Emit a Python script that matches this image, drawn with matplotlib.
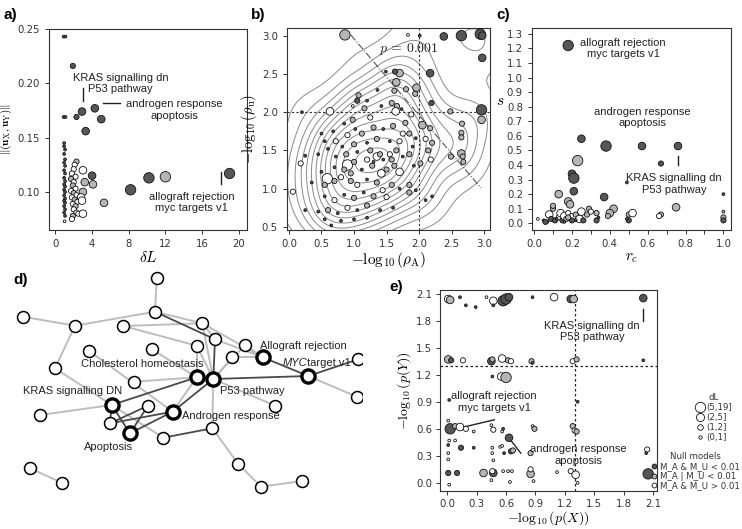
import numpy as np
import matplotlib
matplotlib.use('Agg')
import matplotlib.pyplot as plt
from matplotlib.lines import Line2D

plt.rcParams['mathtext.fontset'] = 'cm'
plt.rcParams['font.size'] = 8

# ---- data -------------------------------------------------------------
# (x, y, dL size class 0..3, null model class 0 dark / 1 grey / 2 white)
a_points = [
    (0.9, 0.243, 0, 0), (1.1, 0.243, 0, 0), (0.9, 0.169, 0, 0), (1.1, 0.169, 0, 0),
    (0.95, 0.145, 0, 0), (0.95, 0.142, 0, 0), (1.05, 0.139, 0, 0), (0.95, 0.135, 0, 0),
    (1.05, 0.130, 0, 0), (0.95, 0.127, 0, 0), (1.05, 0.124, 0, 0), (0.95, 0.120, 0, 0),
    (1.05, 0.117, 0, 0), (0.95, 0.113, 0, 0), (1.05, 0.110, 0, 0), (0.95, 0.107, 0, 0),
    (1.05, 0.105, 0, 0), (0.95, 0.102, 0, 0), (1.05, 0.100, 0, 0), (0.95, 0.097, 0, 0),
    (1.05, 0.094, 0, 0), (0.95, 0.092, 0, 0), (1.05, 0.090, 0, 0), (0.95, 0.087, 0, 0),
    (1.05, 0.084, 0, 0), (0.95, 0.081, 0, 0), (1.05, 0.078, 0, 0), (1.0, 0.073, 0, 2),
    (1.9, 0.216, 1, 0), (2.3, 0.169, 1, 0), (2.3, 0.128, 1, 1), (2.1, 0.125, 1, 2),
    (2.0, 0.121, 1, 2), (1.8, 0.117, 1, 2), (2.2, 0.114, 1, 2), (1.7, 0.112, 1, 1),
    (2.0, 0.109, 1, 2), (1.9, 0.106, 1, 1), (2.2, 0.103, 1, 2), (1.7, 0.101, 1, 2),
    (2.0, 0.099, 1, 1), (2.3, 0.097, 1, 2), (1.8, 0.095, 1, 2), (2.1, 0.093, 1, 1),
    (2.4, 0.091, 1, 2), (1.9, 0.089, 1, 2), (2.2, 0.087, 1, 1), (2.0, 0.084, 1, 2),
    (2.3, 0.081, 1, 2), (1.9, 0.078, 1, 1), (1.8, 0.075, 1, 2), (2.5, 0.080, 1, 2),
    (2.9, 0.174, 2, 0), (4.3, 0.177, 2, 0), (5.0, 0.167, 2, 0), (3.3, 0.156, 2, 0),
    (4.0, 0.115, 2, 0), (4.1, 0.107, 2, 1), (3.2, 0.109, 2, 1), (3.0, 0.120, 2, 2),
    (3.0, 0.100, 2, 1), (2.8, 0.095, 2, 2), (2.9, 0.092, 2, 2), (3.0, 0.080, 2, 2),
    (5.3, 0.090, 2, 1),
    (8.2, 0.102, 3, 0), (10.2, 0.113, 3, 0), (12.0, 0.114, 3, 1), (19.0, 0.117, 3, 0),
]

b_points = [
    (0.86, 3.01, 3, 1), (1.83, 3.01, 0, 2), (2.01, 3.0, 0, 0), (2.38, 2.99, 2, 0),
    (2.65, 3.0, 3, 0), (2.94, 3.02, 3, 0), (2.97, 3.0, 2, 0), (2.97, 2.71, 2, 0),
    (2.17, 2.51, 2, 0), (1.70, 2.51, 2, 1), (1.63, 2.53, 1, 0), (1.49, 2.53, 0, 0),
    (1.65, 2.39, 2, 1), (1.96, 2.32, 2, 1), (1.80, 2.30, 1, 1), (1.62, 2.28, 1, 1),
    (1.94, 2.24, 1, 1), (2.19, 2.12, 1, 0), (1.36, 2.29, 0, 0), (1.07, 2.22, 1, 1),
    (1.20, 2.15, 0, 0), (1.05, 2.15, 1, 0), (0.98, 2.08, 0, 2), (1.16, 2.05, 1, 1),
    (1.58, 2.12, 1, 1), (1.66, 2.08, 1, 1), (1.42, 2.08, 0, 0), (1.73, 2.04, 0, 0),
    (2.48, 2.01, 1, 1), (2.96, 2.03, 3, 0), (2.96, 1.90, 2, 1), (0.63, 2.01, 2, 2),
    (1.64, 2.01, 2, 2), (0.20, 2.00, 0, 0), (1.88, 1.97, 1, 2), (0.98, 1.90, 1, 1),
    (2.05, 1.83, 2, 1), (2.17, 1.79, 1, 1), (2.66, 1.85, 1, 1), (2.65, 1.73, 1, 1),
    (2.65, 1.67, 1, 1), (1.75, 1.72, 1, 2), (1.79, 1.86, 1, 1), (1.25, 1.93, 1, 2),
    (0.85, 1.85, 0, 0), (0.68, 1.75, 0, 0), (0.50, 1.72, 0, 0), (0.55, 1.62, 0, 0),
    (0.72, 1.62, 1, 2), (0.90, 1.70, 1, 2), (1.02, 1.78, 0, 0), (1.12, 1.72, 1, 1),
    (1.30, 1.80, 1, 1), (1.45, 1.78, 0, 0), (1.60, 1.82, 1, 1), (1.85, 1.72, 1, 1),
    (1.95, 1.66, 0, 0), (2.10, 1.65, 1, 2), (1.70, 1.62, 1, 2), (1.55, 1.62, 0, 0),
    (1.35, 1.65, 1, 1), (1.20, 1.60, 0, 0), (1.00, 1.58, 1, 1), (0.82, 1.55, 0, 0),
    (0.60, 1.52, 0, 0), (2.20, 1.60, 1, 1), (1.90, 1.55, 0, 0),
    (0.25, 1.43, 0, 0), (0.18, 1.33, 1, 2), (0.45, 1.45, 0, 0), (0.72, 1.42, 0, 0),
    (0.88, 1.45, 1, 1), (1.05, 1.48, 0, 0), (1.25, 1.50, 1, 1), (1.35, 1.42, 2, 2),
    (1.40, 1.45, 1, 1), (1.45, 1.38, 0, 0), (1.55, 1.45, 1, 2), (1.65, 1.50, 1, 1),
    (1.75, 1.42, 0, 0), (1.85, 1.45, 1, 1), (2.14, 1.50, 1, 1), (2.49, 1.42, 1, 1),
    (2.65, 1.46, 2, 1), (2.67, 1.42, 1, 1), (2.68, 1.35, 1, 1), (2.02, 1.33, 1, 1),
    (2.18, 1.38, 1, 2), (1.92, 1.30, 0, 0), (1.62, 1.30, 1, 1), (1.50, 1.25, 1, 1),
    (1.42, 1.20, 2, 2), (1.28, 1.30, 1, 1), (1.12, 1.25, 0, 0), (0.90, 1.31, 3, 2),
    (0.85, 1.25, 1, 1), (0.95, 1.20, 1, 1), (0.70, 1.28, 0, 0), (0.50, 1.22, 0, 0),
    (1.30, 1.35, 0, 0), (1.20, 1.38, 1, 2), (1.00, 1.35, 1, 1), (1.58, 1.38, 1, 1),
    (1.70, 1.22, 2, 2),
    (0.59, 1.13, 3, 2), (0.06, 0.96, 1, 2), (0.35, 1.08, 0, 0), (0.55, 1.05, 1, 1),
    (0.70, 1.10, 1, 1), (0.80, 1.15, 1, 2), (0.95, 1.10, 1, 1), (1.05, 1.05, 1, 2),
    (1.20, 1.12, 0, 0), (1.35, 1.08, 1, 1), (1.44, 0.98, 1, 2), (1.50, 0.89, 1, 2),
    (1.58, 1.05, 1, 1), (1.70, 1.00, 0, 0), (1.85, 1.05, 1, 1), (1.95, 0.98, 0, 0),
    (2.10, 0.85, 0, 0), (2.20, 0.90, 0, 0), (0.55, 0.90, 0, 0), (0.70, 0.85, 1, 2),
    (0.85, 0.92, 0, 0), (1.00, 0.88, 1, 1), (1.15, 0.95, 0, 0), (1.30, 0.90, 1, 1),
    (0.25, 0.72, 0, 0), (0.45, 0.70, 0, 0), (0.60, 0.72, 1, 1), (0.75, 0.68, 0, 0),
    (0.90, 0.75, 1, 2), (1.05, 0.72, 0, 0), (1.20, 0.78, 1, 1), (1.40, 0.72, 0, 0),
    (1.60, 0.75, 0, 0), (0.80, 0.58, 0, 0), (1.00, 0.60, 0, 0), (1.20, 0.62, 0, 0),
    (0.55, 0.60, 0, 0), (0.65, 0.52, 0, 0), (1.85, 0.95, 1, 1),
]

c_points = [
    (0.18, 1.22, 3, 0), (0.25, 0.58, 2, 0), (0.38, 0.53, 3, 0), (0.57, 0.53, 2, 0),
    (0.76, 0.53, 2, 0), (0.67, 0.41, 1, 0), (0.23, 0.43, 3, 1), (0.20, 0.34, 2, 0),
    (0.21, 0.31, 3, 0), (0.21, 0.22, 2, 0), (0.49, 0.28, 0, 0), (0.37, 0.18, 2, 0),
    (0.13, 0.20, 2, 1), (0.18, 0.15, 2, 1), (0.19, 0.13, 2, 1), (0.75, 0.11, 2, 1),
    (0.42, 0.10, 2, 1), (1.00, 0.20, 0, 0),
    (0.02, 0.03, 0, 2), (0.05, 0.02, 0, 0), (0.07, 0.01, 0, 0), (0.08, 0.06, 2, 2),
    (0.10, 0.10, 1, 1), (0.10, 0.12, 1, 1), (0.09, 0.03, 1, 0), (0.11, 0.02, 1, 0),
    (0.13, 0.04, 1, 2), (0.14, 0.07, 2, 2), (0.15, 0.02, 1, 0), (0.16, 0.05, 2, 2),
    (0.17, 0.03, 1, 1), (0.18, 0.07, 1, 2), (0.20, 0.04, 2, 2), (0.20, 0.02, 1, 0),
    (0.22, 0.06, 1, 1), (0.24, 0.03, 2, 2), (0.25, 0.08, 2, 2), (0.26, 0.02, 1, 0),
    (0.28, 0.06, 1, 1), (0.29, 0.10, 1, 1), (0.30, 0.08, 1, 2), (0.33, 0.07, 1, 1),
    (0.33, 0.02, 1, 0), (0.34, 0.04, 0, 0), (0.40, 0.07, 2, 1), (0.39, 0.05, 1, 1),
    (0.50, 0.06, 1, 1), (0.50, 0.02, 1, 0), (0.52, 0.07, 2, 2), (0.49, 0.03, 0, 0),
    (0.67, 0.06, 1, 1), (0.66, 0.05, 1, 2), (1.00, 0.08, 0, 1), (1.00, 0.04, 1, 1),
    (1.00, 0.02, 1, 0), (0.12, 0.03, 0, 0), (0.16, 0.01, 0, 0), (0.06, 0.01, 1, 0),
    (0.22, 0.02, 0, 0), (0.18, 0.04, 1, 1),
]

e_points = [
    (0.01, 2.04, 2, 2), (0.03, 2.03, 2, 1), (0.13, 2.06, 0, 0), (0.19, 1.97, 0, 0),
    (0.29, 1.95, 0, 0), (0.40, 2.06, 0, 2), (0.47, 2.02, 2, 2), (0.47, 1.97, 0, 0),
    (0.57, 2.02, 3, 0), (0.60, 2.04, 3, 0), (0.63, 2.06, 2, 0), (0.87, 2.06, 0, 0),
    (1.09, 2.06, 2, 2), (1.26, 2.04, 2, 0), (1.29, 2.04, 2, 1), (2.00, 2.05, 2, 0),
    (0.01, 1.37, 2, 1), (0.04, 1.36, 1, 0), (0.16, 1.36, 1, 2), (0.45, 1.35, 2, 0),
    (0.46, 1.37, 1, 1), (0.56, 1.38, 2, 2), (0.62, 1.36, 1, 1), (0.65, 1.35, 1, 2),
    (0.86, 1.35, 1, 1), (0.87, 1.33, 0, 0), (1.28, 1.35, 1, 2), (1.32, 1.37, 1, 1),
    (2.00, 1.36, 0, 0),
    (0.46, 1.18, 0, 0), (0.55, 1.18, 2, 2), (0.60, 1.17, 3, 1),
    (0.02, 0.92, 0, 0), (1.33, 0.90, 0, 0),
    (0.01, 0.69, 0, 2), (0.03, 0.60, 3, 0), (0.08, 0.63, 1, 1), (0.13, 0.62, 2, 2),
    (0.19, 0.60, 1, 2), (0.27, 0.57, 0, 2), (0.45, 0.64, 0, 2), (0.47, 0.59, 1, 2),
    (0.57, 0.60, 0, 0), (0.56, 0.57, 0, 2), (0.63, 0.50, 2, 0), (0.87, 0.63, 0, 2),
    (0.89, 0.60, 1, 1), (1.28, 0.63, 1, 1), (1.30, 0.58, 1, 2), (1.32, 0.57, 1, 1),
    (0.02, 0.47, 0, 2), (0.08, 0.47, 0, 2), (0.01, 0.42, 0, 0), (0.14, 0.39, 1, 0),
    (0.27, 0.39, 0, 0), (0.46, 0.39, 0, 2), (0.54, 0.40, 0, 2), (0.56, 0.41, 0, 2),
    (0.65, 0.35, 1, 0), (0.67, 0.36, 1, 1), (0.58, 0.33, 0, 0), (0.46, 0.33, 0, 2),
    (2.04, 0.37, 1, 2), (2.03, 0.33, 0, 0),
    (0.01, 0.33, 0, 2), (0.01, 0.26, 0, 2), (0.47, 0.25, 0, 2), (0.85, 0.33, 1, 1),
    (0.01, 0.11, 1, 0), (0.10, 0.11, 1, 0), (0.37, 0.11, 2, 1), (0.47, 0.11, 2, 0),
    (0.46, 0.13, 1, 2), (0.57, 0.13, 0, 2), (0.62, 0.13, 0, 2), (0.66, 0.13, 0, 2),
    (0.85, 0.10, 2, 1), (0.85, 0.15, 1, 2), (1.12, 0.12, 0, 2), (1.26, 0.13, 1, 2),
    (1.31, 0.09, 2, 2), (1.33, 0.00, 0, 2), (0.45, 0.03, 0, 2), (0.64, 0.01, 0, 2),
    (0.02, -0.02, 0, 2), (0.88, 0.02, 0, 2), (2.05, 0.10, 3, 0),
]

# network (panel d): node layout in picture pixels, bold = highlighted gene sets
node_xy = [
    (156.7, 278.3), (155.0, 311.7), (22.7, 316.7), (75.0, 325.7), (123.3, 326.0),
    (202.3, 323.3), (215.0, 339.3), (196.7, 345.7), (245.0, 345.0), (89.3, 351.0),
    (152.0, 349.3), (232.3, 357.3), (262.7, 357.3), (358.3, 359.3), (55.0, 368.3),
    (196.7, 377.3), (213.3, 379.0), (308.3, 376.0), (134.0, 381.7), (356.7, 396.7),
    (111.7, 405.0), (148.0, 405.7), (275.0, 405.7), (40.0, 415.0), (172.7, 411.7),
    (110.0, 423.3), (212.3, 428.3), (130.0, 433.3), (163.3, 437.7), (30.0, 468.3),
    (238.3, 464.0), (61.7, 482.7), (261.0, 486.7), (302.3, 481.0),
]
bold_nodes = [12, 15, 16, 17, 20, 24, 27]
light_edges = [(0, 1), (1, 3), (2, 3), (3, 14), (4, 5), (4, 7), (5, 6), (5, 12),
               (6, 12), (7, 16), (7, 15), (8, 12), (11, 16), (17, 19), (14, 20),
               (9, 24), (10, 15), (18, 15), (23, 20), (20, 28), (24, 15), (26, 16),
               (26, 30), (30, 32), (32, 33), (29, 31), (22, 16), (5, 16), (8, 16),
               (1, 5), (11, 12)]
dark_edges = [(1, 6), (6, 16), (12, 17), (16, 17), (17, 13), (20, 15), (20, 25),
              (20, 27), (21, 25), (21, 27), (25, 24), (27, 24), (24, 16), (28, 26)]

dl_labels = ['(5,19]', '(2,5]', '(1,2]', '(0,1]']
null_labels = ['M_A & M_U < 0.01', 'M_A | M_U < 0.01', 'M_A & M_U > 0.01']

# ---- style ------------------------------------------------------------
null_colors = ['#565656', '#b5b5b5', 'white']
size_area = [4, 14, 30, 56]
ann_font = dict(family='Liberation Sans', size=8, color='#222222')
label_font = dict(family='Liberation Sans', size=11, weight='bold')

W, H = 742, 529
fig = plt.figure(figsize=(W / 100, H / 100), dpi=100)


def px_axes(x0, y0, x1, y1):
    return fig.add_axes([x0 / W, 1 - y1 / H, (x1 - x0) / W, (y1 - y0) / H])


def style_axes(ax):
    for s in ax.spines.values():
        s.set_color('#333333')
        s.set_linewidth(0.8)
    ax.tick_params(labelsize=7.3, length=3, width=0.7, colors='#333333',
                   labelcolor='#333333')


def scatter_points(ax, pts, zorder=3):
    x = [p[0] for p in pts]
    y = [p[1] for p in pts]
    s = [size_area[p[2]] for p in pts]
    c = [null_colors[p[3]] for p in pts]
    ax.scatter(x, y, s=s, c=c, edgecolors='#111111', linewidths=0.6, zorder=zorder)


# ---- a) -----------------------------------------------------------------
ax = px_axes(49, 29, 247, 230)
style_axes(ax)
scatter_points(ax, a_points)
ax.set_xlim(-0.7, 20.9)
ax.set_ylim(0.065, 0.25)
ax.set_xticks([0, 4, 8, 12, 16, 20])
ax.set_yticks([0.10, 0.15, 0.20, 0.25])
ax.set_xlabel(r'$\delta L$', fontsize=11, labelpad=1)
ax.set_ylabel(r'$\Vert(\mathbf{u}_\mathrm{X},\mathbf{u}_\mathrm{Y})\Vert$', fontsize=8)
ax.yaxis.set_label_coords(-35 / 198, 0.5)
ax.text(7.1, 0.2, 'KRAS signalling dn\nP53 pathway', ha='center', va='center', **ann_font)
ax.plot([3.0, 3.0], [0.184, 0.196], color='#222222', lw=1)
ax.text(13.0, 0.1754, 'androgen response\napoptosis', ha='center', va='center', **ann_font)
ax.plot([5.2, 7.0], [0.1816, 0.1816], color='#222222', lw=1)
ax.text(14.85, 0.0904, 'allograft rejection\nmyc targets v1', ha='center', va='center', **ann_font)
ax.plot([18.1, 18.1], [0.1077, 0.118], color='#222222', lw=1)
fig.text(10 / W, 1 - 15 / H, 'a)', ha='center', va='center', **label_font)

# ---- b) -----------------------------------------------------------------
ax = px_axes(287, 28, 490, 230)
style_axes(ax)
bx = np.array([p[0] for p in b_points])
by = np.array([p[1] for p in b_points])
gx, gy = np.meshgrid(np.linspace(-0.1, 3.2, 220), np.linspace(0.3, 3.2, 220))
h = 0.27
dens = np.zeros_like(gx)
for xi, yi in zip(bx, by):
    dens += np.exp(-((gx - xi) ** 2 + (gy - yi) ** 2) / (2 * h * h))
levels = np.linspace(dens.max() * 0.06, dens.max() * 0.96, 13)
ax.contour(gx, gy, dens, levels=levels, colors='#8a8a8a', linewidths=0.7, zorder=1)
ax.axvline(2.0, color='#333333', lw=0.8, ls=(0, (2, 2)), zorder=2)
ax.axhline(2.0, color='#333333', lw=0.8, ls=(0, (2, 2)), zorder=2)
dx = np.array([0.95, 2.95])
ax.plot(dx, 3.96 - dx, color='#555555', lw=0.8, ls='-.', zorder=2)
scatter_points(ax, b_points)
ax.text(1.84, 2.83, r'$p\,=\,0.001$', ha='center', va='center', fontsize=10, color='#222222')
ax.set_xlim(-0.03, 3.09)
ax.set_ylim(0.46, 3.1)
ax.set_xticks(np.arange(0, 3.01, 0.5))
ax.set_yticks(np.arange(0.5, 3.01, 0.5))
ax.set_xlabel(r'$-\log_{10}(\rho_\mathrm{A})$', fontsize=11, labelpad=1)
ax.set_ylabel(r'$-\log_{10}(\rho_\mathrm{u})$', fontsize=10.5)
ax.yaxis.set_label_coords(-28 / 203, 0.5)
fig.text(258 / W, 1 - 15 / H, 'b)', ha='center', va='center', **label_font)

# ---- c) -----------------------------------------------------------------
ax = px_axes(532, 28, 731, 230)
style_axes(ax)
scatter_points(ax, c_points)
ax.set_xlim(-0.011, 1.04)
ax.set_ylim(-0.046, 1.34)
ax.set_xticks(np.arange(0, 1.01, 0.2))
ax.set_xticks(np.arange(0.1, 1.0, 0.2), minor=True)
ax.tick_params(which='minor', length=3, width=0.7, colors='#333333')
ax.set_yticks(np.round(np.arange(0, 1.31, 0.1), 1))
ax.set_xlabel(r'$r_c$', fontsize=11, labelpad=1)
ax.set_ylabel(r'$s$', fontsize=11, rotation=0, va='center', ha='center')
ax.yaxis.set_label_coords(-32 / 199, 0.64)
ax.text(0.47, 1.2, 'allograft rejection\nmyc targets v1', ha='center', va='center', **ann_font)
ax.text(0.571, 0.725, 'androgen response\napoptosis', ha='center', va='center', **ann_font)
ax.plot([0.762, 0.762], [0.40, 0.46], color='#222222', lw=1)
ax.text(0.739, 0.27, 'KRAS signalling dn\nP53 pathway', ha='center', va='center', **ann_font)
fig.text(503 / W, 1 - 15 / H, 'c)', ha='center', va='center', **label_font)

# ---- d) network ---------------------------------------------------------
ax = fig.add_axes([0, 0, 362 / W, 269 / H])
ax.set_xlim(0, 362)
ax.set_ylim(529, 260)
ax.axis('off')
for i, j in light_edges:
    ax.plot([node_xy[i][0], node_xy[j][0]], [node_xy[i][1], node_xy[j][1]],
            color='#bdbdbd', lw=1.4, zorder=1, solid_capstyle='round')
for i, j in dark_edges:
    ax.plot([node_xy[i][0], node_xy[j][0]], [node_xy[i][1], node_xy[j][1]],
            color='#4a4a4a', lw=1.3, zorder=2, solid_capstyle='round')
for k, (x, y) in enumerate(node_xy):
    if k in bold_nodes:
        ax.plot(x, y, 'o', ms=9.5, mfc='white', mec='black', mew=2.4, zorder=4)
    else:
        ax.plot(x, y, 'o', ms=8.6, mfc='white', mec='black', mew=1.1, zorder=3)
net_font = dict(family='Liberation Sans', size=8, color='#222222', zorder=5, va='center')
ax.text(260.5, 346, 'Allograft rejection', ha='left', **net_font)
ax.text(282.3, 363.3, 'MYC', ha='left', style='italic', **net_font)
ax.text(306.7, 363.3, 'target v1', ha='left', **net_font)
ax.text(81, 364.3, 'Cholesterol homeostasis', ha='left', **net_font)
ax.text(220, 391, 'P53 pathway', ha='left', **net_font)
ax.text(23.3, 390.7, 'KRAS signalling DN', ha='left', **net_font)
ax.text(181.7, 415.7, 'Androgen response', ha='left', **net_font)
ax.text(84.3, 446.7, 'Apoptosis', ha='left', **net_font)
fig.text(20.7 / W, 1 - 280 / H, 'd)', ha='center', va='center', **label_font)

# ---- e) -----------------------------------------------------------------
ax = px_axes(440, 290, 657, 491)
style_axes(ax)
ax.tick_params(pad=2.5)
ax.axvline(1.3, color='#222222', lw=0.9, ls=(0, (2, 2)), zorder=1)
ax.axhline(1.3, color='#222222', lw=0.9, ls=(0, (2, 2)), zorder=1)
scatter_points(ax, e_points)
ax.set_xlim(-0.074, 2.14)
ax.set_ylim(-0.09, 2.14)
ticks = np.round(np.arange(0, 2.11, 0.3), 1)
ax.set_xticks(ticks)
ax.set_yticks(ticks)
ax.set_xlabel(r'$-\log_{10}(p(X))$', fontsize=10, va='center')
ax.xaxis.set_label_coords(0.5, -27 / 201)
ax.set_ylabel(r'$-\log_{10}(p(Y))$', fontsize=10)
ax.yaxis.set_label_coords(-27 / 217, 0.5)
ax.text(1.48, 1.68, 'KRAS signalling dn\nP53 pathway', ha='center', va='center', zorder=5, **ann_font)
ax.plot([2.0, 2.0], [1.8, 1.93], color='#222222', lw=1)
ax.text(0.48, 0.9, 'allograft rejection\nmyc targets v1', ha='center', va='center', zorder=5, **ann_font)
ax.plot([0.13, 0.48], [0.61, 0.70], color='#222222', lw=1)
ax.text(1.34, 0.31, 'androgen response\napoptosis', ha='center', va='center', zorder=5, **ann_font)
ax.plot([0.65, 0.75], [0.47, 0.33], color='#222222', lw=1)
fig.text(396 / W, 1 - 287 / H, 'e)', ha='center', va='center', **label_font)

dl_handles = [Line2D([], [], ls='', marker='o', ms=m, mfc='white', mec='#111111', mew=0.6)
              for m in [7.5, 5.8, 4.0, 2.4]]
leg1 = fig.legend(dl_handles, dl_labels, title='dL', loc='upper center',
                  bbox_to_anchor=(714 / W, 1 - 388 / H), frameon=False, fontsize=6.2,
                  title_fontsize=6.2, handletextpad=0.2, labelspacing=0.12,
                  borderpad=0.1, handlelength=1.0)
null_handles = [Line2D([], [], ls='', marker='o', ms=3.5, mfc=c, mec='#111111', mew=0.6)
                for c in null_colors]
leg2 = fig.legend(null_handles, null_labels, title='Null models', loc='upper right',
                  bbox_to_anchor=(741 / W, 1 - 451 / H), frameon=False, fontsize=6.2,
                  title_fontsize=6.2, handletextpad=0.3, labelspacing=0.1,
                  borderpad=0.1, borderaxespad=0.0, handlelength=0.8)
for lg in (leg1, leg2):
    for t in lg.get_texts():
        t.set_color('#333333')
    lg.get_title().set_color('#333333')

fig.savefig('out.png', dpi=100)
